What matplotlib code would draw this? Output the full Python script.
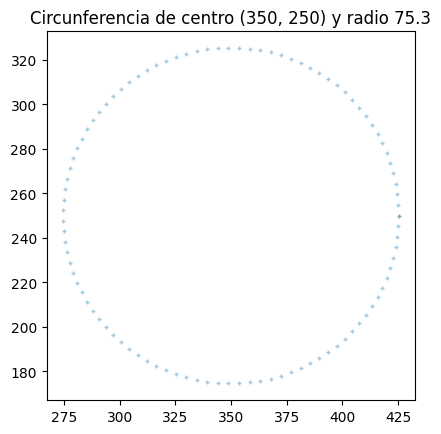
import numpy as np
import matplotlib
matplotlib.use("Agg")
import matplotlib.pyplot as plt

# Data: circle parameters read from the title, 100 sample points
center = (350, 250)
radius = 75.3
n_points = 100

theta = np.linspace(0, 2 * np.pi, n_points)
x = center[0] + radius * np.cos(theta)
y = center[1] + radius * np.sin(theta)

fig = plt.figure(figsize=(4.41, 4.35), dpi=100)
ax = fig.add_axes([46 / 441, 34 / 435, 370 / 441, 369 / 435])
ax.scatter(x, y, marker='+', s=6, alpha=0.4, linewidths=1.0)
ax.set_aspect('equal')
ax.set_title(f"Circunferencia de centro {center} y radio {radius}")
fig.savefig("out.png", dpi=100)
